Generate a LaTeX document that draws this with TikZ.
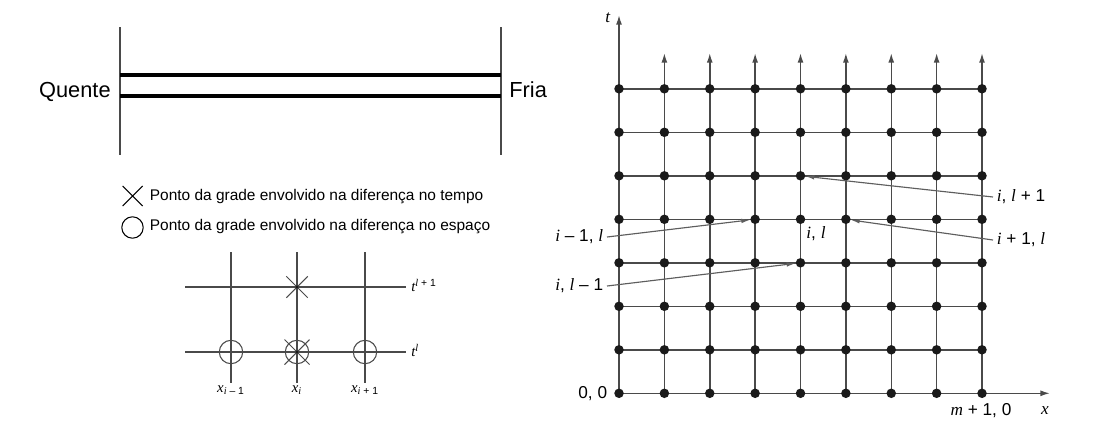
\documentclass[tikz,border=0pt]{standalone}
\usepackage{fontspec}
\setmainfont{Liberation Sans}
\newfontfamily\tms{Liberation Serif}
\usepackage{tikz}
\usetikzlibrary{arrows.meta,positioning}
\definecolor{ink}{HTML}{1A1A1A}
\definecolor{gline}{HTML}{4A4A4A}
\definecolor{lead}{HTML}{5E5E5E}
\newcommand{\itv}[1]{{\tms\itshape #1}}

\tikzset{
  dot/.style={circle,fill=ink,inner sep=0pt,minimum size=0.19cm},
  gridln/.style={gline,line width=0.85pt},
  thin/.style={gline,line width=0.6pt},
  rod/.style={black,line width=2.8pt},
  tip/.style={-{Latex[length=5.5pt,width=3.4pt]}},
  leader/.style={lead,line width=0.65pt,-{Latex[length=5pt,width=2.6pt]}},
  lbl/.style={font=\fontsize{9.8}{11}\selectfont,inner sep=2pt},
  small/.style={font=\fontsize{8.4}{10}\selectfont,inner sep=0pt},
}

\begin{document}
\begin{tikzpicture}[x=0.02cm,y=-0.02cm]
  \useasboundingbox (0,0) rectangle (1108,443);

  % rod between the two ends
  \draw[thin] (120,27) -- (120,155);
  \draw[thin] (501,27) -- (501,155);
  \draw[rod] (120,75) -- (501,75);
  \draw[rod] (120,96) -- (501,96);
  \node[anchor=base east,inner sep=0pt,font=\fontsize{12.4}{14}\selectfont] (hot) at (111,97) {Quente};
  \node[anchor=base west,inner sep=0pt,font=\fontsize{12.4}{14}\selectfont] (cold) at (509,97) {Fria};

  % legend
  \draw[black,line width=0.6pt] (122.7,186) -- (142.7,206) (122.7,206) -- (142.7,186);
  \draw[black,line width=0.6pt] (132.5,227.5) circle (10.7);
  \node[anchor=base west,inner sep=0pt,font=\fontsize{8.8}{10}\selectfont] (legt) at (149.5,200.7)
    {Ponto da grade envolvido na diferença no tempo};
  \node[anchor=base west,inner sep=0pt,font=\fontsize{8.8}{10}\selectfont] (legs) at (149.5,230.3)
    {Ponto da grade envolvido na diferença no espaço};

  % stencil
  \foreach \k/\x in {0/231,1/297,2/365} {
    \draw[thin] (\x,252) -- (\x,383);
    \draw[thin] (\x,352) circle (11.7);
  }
  \draw[thin] (185,287) -- (406,287);
  \draw[thin] (185,352) -- (406,352);
  \draw[thin] (286.3,276.3) -- (307.7,297.7) (286.3,297.7) -- (307.7,276.3);
  \draw[thin] (284.5,339.5) -- (309.5,364.5) (284.5,364.5) -- (309.5,339.5);
  \fill[ink] (297,287) circle (1.6) (297,352) circle (1.6);
  \node[small,anchor=base west] (tup) at (411,291) {\itv{t}\textsuperscript{\itv{l} + 1}};
  \node[small,anchor=base west] (tnow) at (411,356) {\itv{t}\textsuperscript{\itv{l}}};
  \node[small,anchor=base] (xm) at (231,392) {\itv{x}\textsubscript{\itv{i} – 1}};
  \node[small,anchor=base] (xc) at (297,392) {\itv{x}\textsubscript{\itv{i}}};
  \node[small,anchor=base] (xp) at (365,392) {\itv{x}\textsubscript{\itv{i} + 1}};

  % computational grid
  \foreach \i in {0,...,8} {
    \foreach \j in {0,...,7} {
      \coordinate (p-\i-\j) at ({619+45.375*\i},{393.3-43.5*\j});
    }
  }
  \foreach \i in {1,...,8} {
    \coordinate (top-\i) at ({619+45.375*\i},53);
  }
  \coordinate (top-0) at (619,15);
  \coordinate (xend) at (1050,393.3);
  \foreach \j in {1,...,7} {
    \draw[gridln] (p-0-\j) -- (p-8-\j);
  }
  \foreach \i in {0,...,8} {
    \draw[gridln,tip] (p-\i-0) -- (top-\i);
  }
  \draw[gridln,tip] (p-0-0) -- (xend);
  \foreach \i in {0,...,8} {
    \foreach \j in {0,...,7} {
      \node[dot] (g-\i-\j) at (p-\i-\j) {};
    }
  }

  % labels
  \node[lbl,anchor=east] (tlab) at (614,18) {\itv{t}};
  \node[lbl] (xlab) at (1045,411) {\itv{x}};
  \node[lbl,anchor=east] (origin) at (611,393.3) {0, 0};
  \node[lbl] (corner) at (981,411) {\itv{m} + 1, 0};
  \node[lbl] (il) at (816,234) {\itv{i}, \itv{l}};
  \node[lbl,anchor=west] (ilp) at (993,197) {\itv{i}, \itv{l} + 1};
  \node[lbl,anchor=west] (ipl) at (993,240) {\itv{i} + 1, \itv{l}};
  \node[lbl,anchor=east] (iml) at (607,237) {\itv{i} – 1, \itv{l}};
  \node[lbl,anchor=east] (ilm) at (607,286) {\itv{i}, \itv{l} – 1};
  \draw[leader] (ilp.west) -- (g-4-5);
  \draw[leader] (ipl.west) -- (g-5-4);
  \draw[leader] (iml.east) -- (g-3-4);
  \draw[leader] (ilm.east) -- (g-4-3);
\end{tikzpicture}
\end{document}
